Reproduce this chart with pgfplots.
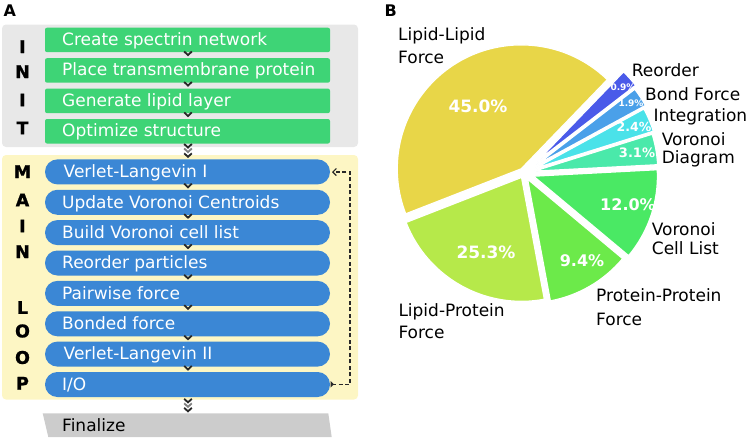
\documentclass[border=0pt]{standalone}
\usepackage{pgfplots}
\pgfplotsset{compat=1.18}
\usepackage{fontspec}
\setmainfont{DejaVu Sans}
\newfontfamily\heavyfont{DejaVu Sans Bold}[FakeBold=1.2]
\usetikzlibrary{calc,arrows.meta}
\newcommand{\fsz}[1]{\fontsize{#1bp}{#1bp}\selectfont}
\definecolor{initbg}{RGB}{232,232,232}
\definecolor{mainbg}{RGB}{253,246,196}
\definecolor{gbox}{RGB}{62,212,118}
\definecolor{bbox}{RGB}{59,135,213}
\definecolor{finbg}{RGB}{204,204,204}
\definecolor{chev}{RGB}{40,40,40}
\definecolor{cLL}{RGB}{232,214,72}
\definecolor{cLP}{RGB}{182,233,74}
\definecolor{cPP}{RGB}{108,234,74}
\definecolor{cCL}{RGB}{74,233,100}
\definecolor{cVD}{RGB}{74,233,170}
\definecolor{cIN}{RGB}{74,226,233}
\definecolor{cBF}{RGB}{74,160,233}
\definecolor{cRE}{RGB}{74,90,233}
% pie slice: start angle, end angle, explode (bp), colour
\newcommand{\pieslice}[4]{%
  \fill[#4, draw=white, line width=1.3bp]
    ($(axis cs:524,173)+({(#1+#2)/2}:#3bp)$) -- ++(#1:124bp)
    arc[start angle=#1, end angle=#2, radius=124bp] -- cycle;}
\newcommand{\chevron}[2]{%
  \draw[chev, line width=1.8bp] (axis cs:#1-3.8,#2) -- (axis cs:#1,#2+3.6) -- (axis cs:#1+3.8,#2);}
\newcommand{\gbox}[2]{%
  \fill[gbox, rounded corners=2bp] (axis cs:45,#1) rectangle (axis cs:330,#1+24.5);
  \node[anchor=base west, text=white, font=\fsz{17}, inner sep=0pt] at (axis cs:62,#1+17.4) {#2};}
\newcommand{\bbox}[3][62]{%
  \fill[bbox, rounded corners=12.4bp] (axis cs:45,#2) rectangle (axis cs:330,#2+25);
  \node[anchor=base west, text=white, font=\fsz{17}, inner sep=0pt] at (axis cs:#1,#2+18.3) {#3};}
\newcommand{\ltr}[2]{\node[font=\heavyfont\fsz{17.5}, inner sep=0pt] at (axis cs:22.5,#2) {#1};}
\newcommand{\lbl}[3]{\node[anchor=base west, font=\fsz{17}, inner sep=0pt] at (axis cs:#2,#3) {#1};}
\begin{document}
\begin{tikzpicture}
\useasboundingbox (0,0) rectangle (747bp,439bp);
\begin{axis}[x=1bp, y=1bp, xmin=0, xmax=747, ymin=0, ymax=439, y dir=reverse,
  hide axis, clip=false, anchor=south west, at={(0,0)}]
% ---------- panel A ----------
\node[anchor=base west, font=\bfseries\fsz{16}, inner sep=0pt] at (axis cs:3.5,16.7) {A};
\fill[initbg, rounded corners=4bp] (axis cs:2,24.5) rectangle (axis cs:358,147);
\fill[mainbg, rounded corners=4bp] (axis cs:2,155) rectangle (axis cs:358,399.5);
\gbox{27.7}{Create spectrin network}
\gbox{58.2}{Place transmembrane protein}
\gbox{88.6}{Generate lipid layer}
\gbox{119.0}{Optimize structure}
\bbox[63.5]{159.4}{Verlet-Langevin I}
\bbox{189.8}{Update Voronoi Centroids}
\bbox{220.1}{Build Voronoi cell list}
\bbox{250.5}{Reorder particles}
\bbox{280.9}{Pairwise force}
\bbox{311.3}{Bonded force}
\bbox[63.5]{341.6}{Verlet-Langevin II}
\bbox{372.0}{I/O}
\fill[finbg] (axis cs:42.7,413.3) -- (axis cs:328.3,413.3) -- (axis cs:331.7,437) -- (axis cs:48.3,437) -- cycle;
\node[anchor=base west, font=\fsz{17}, inner sep=0pt] at (axis cs:62,431.7) {Finalize};
% section letters
\ltr{I}{46.7}\ltr{N}{71.7}\ltr{I}{100}\ltr{T}{128}
\ltr{M}{171.7}\ltr{A}{200}\ltr{I}{226}\ltr{N}{251.7}
\ltr{L}{307.5}\ltr{O}{331}\ltr{O}{357.5}\ltr{P}{383.3}
% chevrons
\chevron{188}{51.5}\chevron{188}{82}\chevron{188}{112.4}
\chevron{188}{183.7}\chevron{188}{214.1}\chevron{188}{244.4}\chevron{188}{274.8}
\chevron{188}{305.2}\chevron{188}{335.6}\chevron{188}{365.9}
\chevron{188}{144}\draw[gray, line width=1.8bp] (axis cs:184.2,148.5) -- (axis cs:188,152.1) -- (axis cs:191.8,148.5);\chevron{188}{153.3}
\chevron{188}{398.8}\draw[gray, line width=1.8bp] (axis cs:184.2,403.3) -- (axis cs:188,406.9) -- (axis cs:191.8,403.3);\chevron{188}{407.8}
% loop arrow
\draw[chev, line width=1.2bp, dash pattern=on 4bp off 2.5bp, -{Straight Barb[length=3.5bp,width=7bp,line width=1.2bp]}]
  (axis cs:332,384.3) -- (axis cs:350,384.3) -- (axis cs:350,172) -- (axis cs:332,172);
\fill[chev] (axis cs:330.5,381) -- (axis cs:334,384.3) -- (axis cs:330.5,387.6) -- cycle;
% ---------- panel B ----------
\node[anchor=base west, font=\bfseries\fsz{16}, inner sep=0pt] at (axis cs:384.5,16.7) {B};
% shares drawn (percent of the circle): 43.1, 22.0, 11.0, 11.9, 4.0, 3.1, 2.5, 2.3
\pieslice{46}{201.3}{5}{cLL}
\pieslice{201.3}{280.6}{5}{cLP}
\pieslice{280.6}{320.1}{7}{cPP}
\pieslice{320.1}{363}{10}{cCL}
\pieslice{3}{17.4}{10}{cVD}
\pieslice{17.4}{28.6}{12}{cIN}
\pieslice{28.6}{37.6}{15}{cBF}
\pieslice{37.6}{46}{18}{cRE}
% percentage labels
\node[text=white, font=\bfseries\fsz{17}] at (axis cs:478,106) {45.0\%};
\node[text=white, font=\bfseries\fsz{17}] at (axis cs:486,252) {25.3\%};
\node[text=white, font=\bfseries\fsz{16}] at (axis cs:582,261) {9.4\%};
\node[text=white, font=\bfseries\fsz{16}] at (axis cs:628,205) {12.0\%};
\node[text=white, font=\bfseries\fsz{13}] at (axis cs:637,153) {3.1\%};
\node[text=white, font=\bfseries\fsz{12.5}] at (axis cs:634,127) {2.4\%};
\node[text=white, font=\bfseries\fsz{9}] at (axis cs:631,103) {1.9\%};
\node[text=white, font=\bfseries\fsz{9}] at (axis cs:623,87) {0.9\%};
% category labels
\lbl{Lipid-Lipid}{398}{40}\lbl{Force}{398}{63.3}
\lbl{Reorder}{631.7}{76}\lbl{Bond Force}{645}{100}\lbl{Integration}{653.3}{121.7}
\lbl{Voronoi}{661.7}{145}\lbl{Diagram}{661.7}{163.3}
\lbl{Voronoi}{651.7}{235}\lbl{Cell List}{651.7}{254}
\lbl{Protein-Protein}{596}{301.7}\lbl{Force}{596}{325}
\lbl{Lipid-Protein}{398.3}{316}\lbl{Force}{398.3}{338.3}
\end{axis}
\end{tikzpicture}
\end{document}
